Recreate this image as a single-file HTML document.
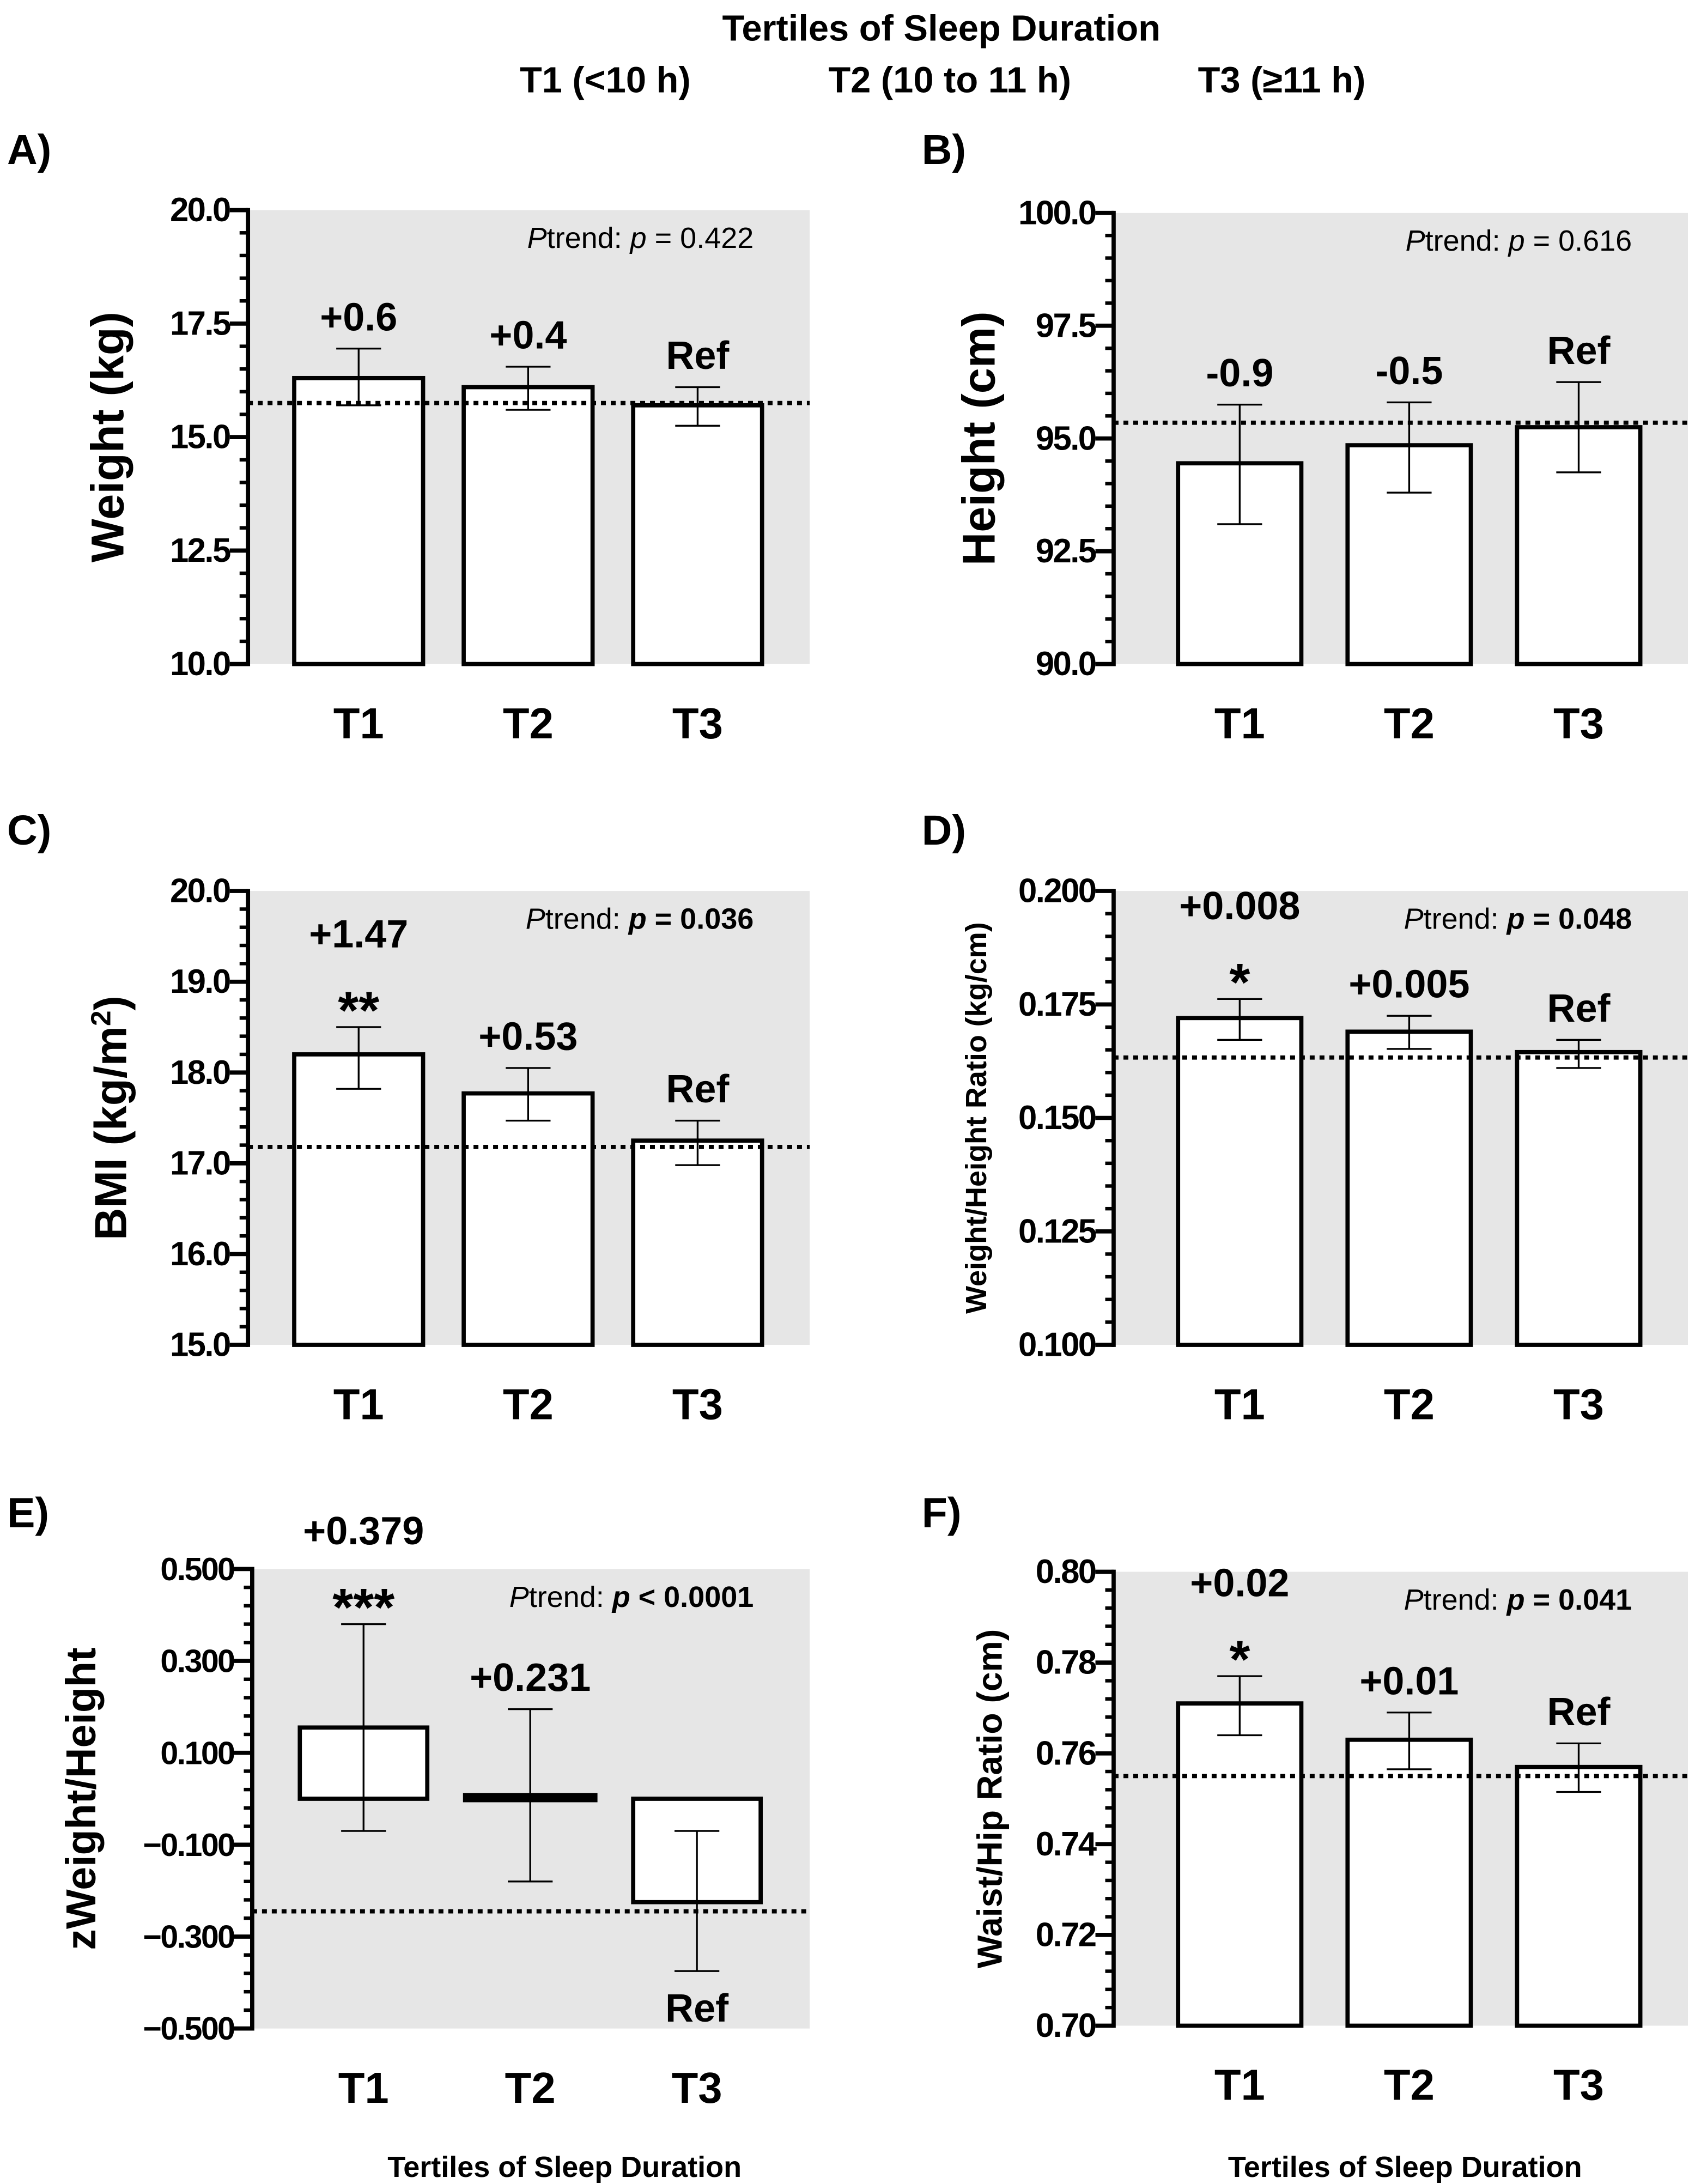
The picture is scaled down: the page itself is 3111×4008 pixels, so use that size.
<!DOCTYPE html>
<html><head><meta charset="utf-8">
<style>
html,body{margin:0;padding:0;background:#fff;}
svg{display:block;}
text{font-family:"Liberation Sans",Arial,sans-serif;}
</style></head>
<body>
<svg id="fig" width="3111" height="4008" viewBox="0 0 1210 1559" xmlns="http://www.w3.org/2000/svg">
<rect x="0" y="0" width="1210" height="1559" fill="#fff"/>
<text x="672" y="29" font-size="26" font-weight="bold" text-anchor="middle">Tertiles of Sleep Duration</text>
<text x="432" y="66" font-size="26" font-weight="bold" text-anchor="middle">T1 (&lt;10 h)</text>
<text x="678" y="66" font-size="26" font-weight="bold" text-anchor="middle">T2 (10 to 11 h)</text>
<text x="915" y="66" font-size="26" font-weight="bold" text-anchor="middle">T3 (≥11 h)</text>
<text x="403" y="1554" font-size="21" font-weight="bold" text-anchor="middle">Tertiles of Sleep Duration</text>
<text x="1003" y="1554" font-size="21" font-weight="bold" text-anchor="middle">Tertiles of Sleep Duration</text>
</svg>
<script>
const categories = ["T1","T2","T3"];
// Panel A
const aValues = [16.3, 16.1, 15.7];
const aErrLow = [15.7, 15.6, 15.25];
const aErrHigh = [16.95, 16.55, 16.1];
const aRefLine = 15.75;
const aLabels = ["+0.6","+0.4","Ref"];
const aTicks = ["10.0","12.5","15.0","17.5","20.0"];
// Panel B
const bValues = [94.45, 94.85, 95.25];
const bErrLow = [93.1, 93.8, 94.25];
const bErrHigh = [95.75, 95.8, 96.25];
const bRefLine = 95.35;
const bLabels = ["-0.9","-0.5","Ref"];
const bTicks = ["90.0","92.5","95.0","97.5","100.0"];
// Panel C
const cValues = [18.2, 17.77, 17.25];
const cErrLow = [17.82, 17.47, 16.98];
const cErrHigh = [18.5, 18.05, 17.47];
const cRefLine = 17.18;
const cLabels = ["+1.47","+0.53","Ref"];
const cStars = ["**","",""];
const cTicks = ["15.0","16.0","17.0","18.0","19.0","20.0"];
// Panel D
const dValues = [0.172, 0.169, 0.1645];
const dErrLow = [0.1672, 0.1652, 0.161];
const dErrHigh = [0.1762, 0.1725, 0.1672];
const dRefLine = 0.1633;
const dLabels = ["+0.008","+0.005","Ref"];
const dStars = ["*","",""];
const dTicks = ["0.100","0.125","0.150","0.175","0.200"];
// Panel E
const eValues = [0.155, 0.005, -0.225];
const eErrLow = [-0.07, -0.18, -0.375];
const eErrHigh = [0.38, 0.195, -0.07];
const eRefLine = -0.245;
const eLabels = ["+0.379","+0.231","Ref"];
const eStars = ["***","",""];
const eTicks = ["\u22120.500","\u22120.300","\u22120.100","0.100","0.300","0.500"];
// Panel F
const fValues = [0.771, 0.763, 0.757];
const fErrLow = [0.764, 0.7565, 0.7515];
const fErrHigh = [0.777, 0.769, 0.7622];
const fRefLine = 0.755;
const fLabels = ["+0.02","+0.01","Ref"];
const fStars = ["*","",""];
const fTicks = ["0.70","0.72","0.74","0.76","0.78","0.80"];

const NS = "http://www.w3.org/2000/svg";
const svg = document.getElementById("fig");
function mk(tag, attrs, parent){
  const e = document.createElementNS(NS, tag);
  for (const k in attrs) e.setAttribute(k, attrs[k]);
  (parent||svg).appendChild(e);
  return e;
}

function panel(o){
  const g = mk("g", {});
  
  
  const lo = parseFloat(o.ticks[0].replace("\u2212","-")), hi = parseFloat(o.ticks[o.ticks.length-1].replace("\u2212","-"));
  const y = v => o.bottom - (v - lo) / (hi - lo) * (o.bottom - o.top);
  const xc = i => o.barX[i] + o.barW/2;
  const bg = mk("rect", {x:o.ax, y:o.top, width:o.right-o.ax, height:o.bottom-o.top, fill:"#e6e6e6"}, g);
  
  
  const pl = mk("text", {x:o.lx, y:o.ly, "font-size":30, "font-weight":"bold"}, g);
  pl.textContent = o.id + ")";
  
  
  const base = o.base !== undefined ? o.base : lo;
  for (let i=0;i<categories.length;i++){
    const v = o.values[i];
    const y1 = Math.min(y(v), y(base)), h = Math.abs(y(v)-y(base));
    const b = mk("rect", {x:o.barX[i], y:y1, width:o.barW, height:Math.max(h,1), fill:"#fff", stroke:"#000", "stroke-width": h<4?5:3}, g);
    
    
  }
  const rl = mk("line", {x1:o.ax, x2:o.right, y1:y(o.ref), y2:y(o.ref), stroke:"#000", "stroke-width":3, "stroke-dasharray":"3.5 3.5"}, g);
  
  
  for (let i=0;i<categories.length;i++){
    const eg = mk("g", {stroke:"#000", "stroke-width":1.3}, g);
    
    
    const cx = xc(i);
    mk("line", {x1:cx, x2:cx, y1:y(o.errLow[i]), y2:y(o.errHigh[i])}, eg);
    mk("line", {x1:cx-16, x2:cx+16, y1:y(o.errLow[i]), y2:y(o.errLow[i])}, eg);
    mk("line", {x1:cx-16, x2:cx+16, y1:y(o.errHigh[i]), y2:y(o.errHigh[i])}, eg);
  }
  for (let i=0;i<categories.length;i++){
    const cx = xc(i);
    let yy = y(o.errHigh[i]) - 13;
    const st = o.stars ? o.stars[i] : "";
    if (o.below && o.below[i]) {
      const t = mk("text", {x:cx, y:y(o.errLow[i]) + 36, "font-size":28, "font-weight":"bold", "text-anchor":"middle"}, g);
      t.textContent = o.labels[i];
      
      
      continue;
    }
    if (st){
      const s = mk("text", {x:cx, y:yy + 14, "font-size":38, "font-weight":"bold", "text-anchor":"middle"}, g);
      s.textContent = st;
      
      
      yy -= o.starGap || 38;
    }
    const t = mk("text", {x:cx, y:yy, "font-size":28, "font-weight":"bold", "text-anchor":"middle"}, g);
    t.textContent = o.labels[i];
    
    
  }
  const ax = mk("line", {x1:o.ax, x2:o.ax, y1:o.top-1.5, y2:o.bottom+1.5, stroke:"#000", "stroke-width":3}, g);
  
  
  const n = o.ticks.length - 1;
  const step = (o.bottom - o.top) / n;
  for (let j=0;j<=n;j++){
    const ty = o.bottom - j*step;
    mk("line", {x1:o.ax-13, x2:o.ax, y1:ty, y2:ty, stroke:"#000", "stroke-width":3}, g);
    if (j<n) for (let m=1;m<(o.minor||5);m++){
      const my = ty - m*step/(o.minor||5);
      mk("line", {x1:o.ax-6, x2:o.ax, y1:my, y2:my, stroke:"#000", "stroke-width":2.5}, g);
    }
    const tl = mk("text", {x:o.ax-13, y:ty+8, "font-size":o.tickFs||24, "font-weight":"bold", "text-anchor":"end", "letter-spacing":"-1"}, g);
    tl.textContent = o.ticks[j];
    
    
  }
  const yt = mk("text", {x:0, y:0, "font-size":o.ytFs, "font-weight":"bold", "text-anchor":"middle", transform:`translate(${o.ytX},${(o.top+o.bottom)/2}) rotate(-90)`}, g);
  yt.innerHTML = o.ytitle;
  
  
  for (let i=0;i<categories.length;i++){
    const xl = mk("text", {x:xc(i), y:o.bottom+53, "font-size":31, "font-weight":"bold", "text-anchor":"middle"}, g);
    xl.textContent = categories[i];
    
    
  }
  const pt = mk("text", {x:o.right-40, y:o.top+27, "font-size":21, "text-anchor":"end"}, g);
  pt.innerHTML = o.ptrend;
  
  
}

const L = {ax:177, right:578, barX:[210,331,452], barW:92};
const R = {ax:795, right:1205, barX:[841,962,1083], barW:88};

panel(Object.assign({id:"A", lx:5, ly:117, top:150, bottom:474, values:aValues, errLow:aErrLow, errHigh:aErrHigh, ref:aRefLine, labels:aLabels, ticks:aTicks, ytitle:"Weight (kg)", ytFs:33, ytX:88,
  ptrend:'<tspan font-style="italic">P</tspan>trend: <tspan font-style="italic">p</tspan> = 0.422'}, L));
panel(Object.assign({id:"B", lx:658, ly:117, top:152, bottom:474, values:bValues, errLow:bErrLow, errHigh:bErrHigh, ref:bRefLine, labels:bLabels, ticks:bTicks, ytitle:"Height (cm)", ytFs:33, ytX:710,
  ptrend:'<tspan font-style="italic">P</tspan>trend: <tspan font-style="italic">p</tspan> = 0.616'}, R));
panel(Object.assign({id:"C", lx:5, ly:603, top:636, bottom:960, values:cValues, errLow:cErrLow, errHigh:cErrHigh, ref:cRefLine, labels:cLabels, stars:cStars, starGap:44, ticks:cTicks, ytitle:'BMI (kg/m<tspan baseline-shift="super" font-size="20">2</tspan>)', ytFs:32, ytX:90,
  ptrend:'<tspan font-style="italic">P</tspan>trend: <tspan font-weight="bold" font-style="italic">p</tspan><tspan font-weight="bold"> = 0.036</tspan>'}, L));
panel(Object.assign({id:"D", lx:658, ly:603, top:636, bottom:960, values:dValues, errLow:dErrLow, errHigh:dErrHigh, ref:dRefLine, labels:dLabels, stars:dStars, starGap:44, ticks:dTicks, ytitle:"Weight/Height Ratio (kg/cm)", ytFs:21, ytX:704,
  ptrend:'<tspan font-style="italic">P</tspan>trend: <tspan font-weight="bold" font-style="italic">p</tspan><tspan font-weight="bold"> = 0.048</tspan>'}, R));
panel(Object.assign({id:"E", lx:5, ly:1090, top:1120, bottom:1448, ax:180, values:eValues, base:0, errLow:eErrLow, errHigh:eErrHigh, ref:eRefLine, labels:eLabels, stars:eStars, starGap:44, below:[false,false,true], ticks:eTicks, ytitle:"zWeight/Height", ytFs:30, ytX:68,
  ptrend:'<tspan font-style="italic">P</tspan>trend: <tspan font-weight="bold" font-style="italic">p</tspan><tspan font-weight="bold"> &lt; 0.0001</tspan>', right:578, barX:[214,333,452], barW:91, tickFs:23}));
panel(Object.assign({id:"F", lx:658, ly:1090, top:1122, bottom:1446, values:fValues, errLow:fErrLow, errHigh:fErrHigh, ref:fRefLine, labels:fLabels, stars:fStars, starGap:44, ticks:fTicks, ytitle:"Waist/Hip Ratio (cm)", ytFs:25, ytX:715,
  ptrend:'<tspan font-style="italic">P</tspan>trend: <tspan font-weight="bold" font-style="italic">p</tspan><tspan font-weight="bold"> = 0.041</tspan>'}, R));
</script>
</body></html>
